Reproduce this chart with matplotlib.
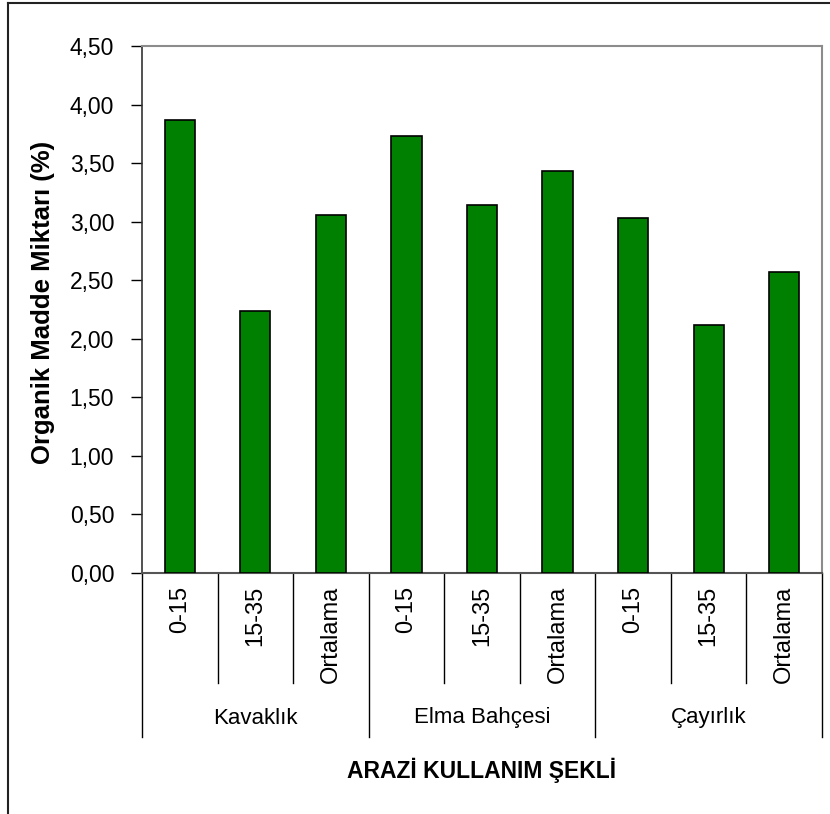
import matplotlib
matplotlib.use("Agg")
import matplotlib.pyplot as plt
from matplotlib.transforms import blended_transform_factory
from matplotlib.lines import Line2D
import numpy as np

plt.rcParams['font.family'] = ['Liberation Sans', 'DejaVu Sans']

groups = ["Kavaklık", "Elma Bahçesi", "Çayırlık"]
depths = ["0-15", "15-35", "Ortalama"]
values = [3.87, 2.24, 3.06, 3.73, 3.14, 3.43, 3.03, 2.12, 2.57]
yticks = [0.0, 0.5, 1.0, 1.5, 2.0, 2.5, 3.0, 3.5, 4.0, 4.5]
ylabel = "Organik Madde Miktarı (%)"
xlabel = "ARAZİ KULLANIM ŞEKLİ"

W, H = 830, 814
fig = plt.figure(figsize=(W / 100, H / 100), dpi=100)
ax = fig.add_axes([142 / W, 1 - 573 / H, (822 - 142) / W, (573 - 46) / H])

n = len(values)
x = np.arange(n)
ax.bar(x, values, width=0.4, color="#008000", edgecolor="black", linewidth=1.2, zorder=3)
ax.set_xlim(-0.5, n - 0.5)
ax.set_ylim(0, 4.5)
ax.set_yticks(yticks)
ax.set_yticklabels([f"{v:.2f}".replace(".", ",") for v in yticks], fontsize=16.5)
ax.tick_params(axis="y", direction="out", length=8, width=1, pad=12)
ax.set_xticks([])
for s in ["top", "right"]:
    ax.spines[s].set_color("#8c8c8c")
    ax.spines[s].set_linewidth(1.5)
ax.spines["left"].set_color("#333333")
ax.spines["left"].set_linewidth(1.2)
ax.spines["bottom"].set_color("#555555")
ax.spines["bottom"].set_linewidth(1.5)

fig.text(43 / W, 1 - 302 / H, ylabel, rotation=90, ha="center", va="center",
         fontsize=18.5, fontweight="bold")

tr = blended_transform_factory(ax.transData, fig.transFigure)
y_axis = 1 - 573 / H
y_short = 1 - 683 / H
y_long = 1 - 737 / H
for i in range(n + 1):
    b = i - 0.5
    y_end = y_long if i % 3 == 0 else y_short
    ax.add_line(Line2D([b, b], [y_axis, y_end], transform=tr, color="black",
                       linewidth=1, clip_on=False))

for i in range(n):
    ax.text(x[i], 1 - 586 / H, depths[i % 3], transform=tr, rotation=90,
            ha="center", va="top", fontsize=17)

for g, name in enumerate(groups):
    ax.text(3 * g + 1, 1 - 718 / H, name, transform=tr, ha="center", va="center",
            fontsize=16)

ax.text((n - 1) / 2, 1 - 770 / H, xlabel, transform=tr, ha="center", va="center",
        fontsize=16.5, fontweight="bold")

# outer chart border
fig.add_artist(Line2D([8 / W, 8 / W], [0, 1 - 3 / H], transform=fig.transFigure,
                      color="#222222", linewidth=1.5))
fig.add_artist(Line2D([8 / W, 1], [1 - 3 / H, 1 - 3 / H], transform=fig.transFigure,
                      color="#222222", linewidth=1.5))

fig.savefig("out.png", dpi=100)
